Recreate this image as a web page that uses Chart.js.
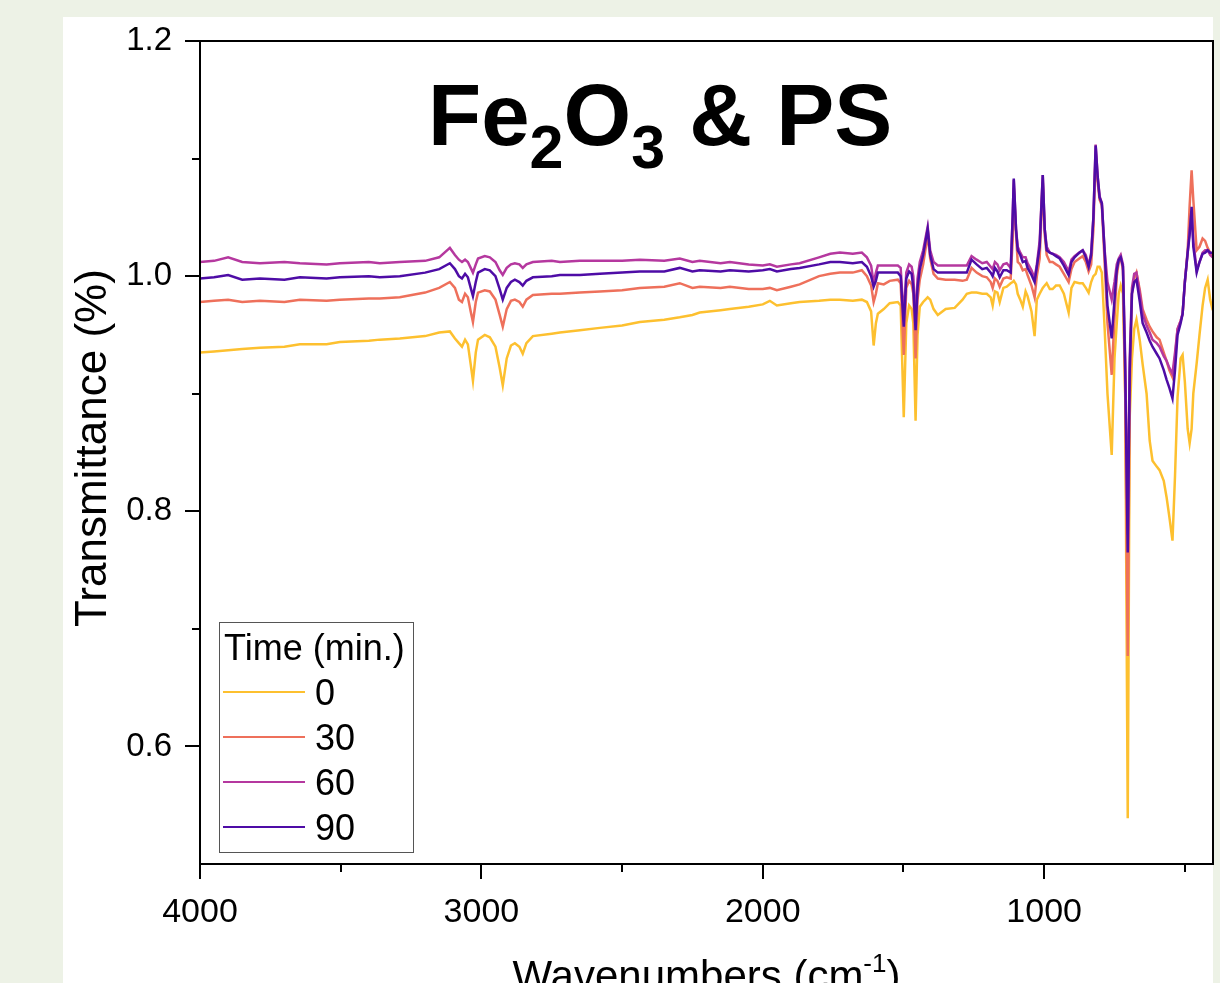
<!DOCTYPE html>
<html>
<head>
<meta charset="utf-8">
<script src="https://cdn.jsdelivr.net/npm/chart.js@4.4.1/dist/chart.umd.min.js"></script>
<style>
  html, body { margin: 0; padding: 0; overflow: hidden; background: #edf2e6; }
  #wrap { position: absolute; left: 0; top: 0; width: 1220px; height: 983px; }
</style>
</head>
<body>
<div id="wrap"><canvas id="c"></canvas></div>
<script>
// ---- data ----
const wavenumbers = [4000,3950,3900,3850,3787,3700,3645,3550,3503,3400,3361,3290,3200,3150,3112,3094,3080,3069,3058,3048,3038,3030,3020,3012,2988,2970,2950,2935,2924,2910,2895,2881,2865,2853,2840,2817,2750,2721,2650,2579,2500,2437,2350,2295,2250,2224,2150,2117,2050,2000,1975,1950,1900,1869,1800,1760,1726,1680,1648,1630,1615,1606,1598,1591,1570,1549,1520,1510,1499,1490,1480,1471,1465,1457,1450,1442,1430,1414,1405,1393,1378,1350,1318,1290,1275,1258,1240,1220,1204,1190,1183,1175,1166,1158,1145,1133,1119,1112,1108,1100,1094,1085,1076,1066,1059,1045,1034,1026,1016,1005,998,991,980,970,958,945,930,913,903,892,875,863,852,842,833,825,817,810,803,795,785,775,760,750,742,735,728,720,712,703,696,688,680,672,660,650,636,625,615,600,590,575,565,555,544,535,526,515,508,500,490,483,476,470,458,448,437,428,419,410,401];

const t0 = [0.935,0.936,0.937,0.938,0.939,0.940,0.942,0.942,0.944,0.945,0.946,0.947,0.949,0.952,0.953,0.947,0.943,0.940,0.946,0.942,0.925,0.911,0.935,0.946,0.950,0.948,0.940,0.922,0.907,0.930,0.941,0.943,0.940,0.934,0.943,0.949,0.951,0.952,0.954,0.956,0.958,0.961,0.963,0.965,0.967,0.969,0.971,0.972,0.974,0.976,0.979,0.975,0.977,0.978,0.979,0.980,0.980,0.979,0.980,0.978,0.970,0.941,0.960,0.968,0.972,0.977,0.978,0.975,0.880,0.960,0.975,0.972,0.960,0.877,0.950,0.974,0.978,0.982,0.980,0.972,0.967,0.972,0.973,0.980,0.985,0.986,0.986,0.985,0.985,0.982,0.975,0.987,0.986,0.978,0.990,0.991,0.994,0.995,0.996,0.993,0.985,0.980,0.974,0.987,0.983,0.970,0.949,0.980,0.985,0.990,0.992,0.994,0.989,0.989,0.992,0.992,0.985,0.969,0.990,0.995,0.994,0.994,0.990,0.986,0.995,1.000,1.002,1.008,1.008,1.003,0.955,0.900,0.848,0.930,0.960,0.985,0.992,0.985,0.900,0.539,0.880,0.930,0.955,0.963,0.945,0.925,0.900,0.860,0.843,0.838,0.835,0.826,0.812,0.795,0.775,0.830,0.897,0.930,0.933,0.910,0.870,0.858,0.870,0.900,0.926,0.950,0.975,0.990,0.997,0.980,0.971];

const t30 = [0.978,0.979,0.980,0.978,0.979,0.978,0.980,0.979,0.980,0.981,0.981,0.982,0.986,0.990,0.995,0.990,0.980,0.978,0.985,0.982,0.970,0.961,0.978,0.986,0.988,0.987,0.980,0.967,0.957,0.972,0.979,0.980,0.978,0.974,0.980,0.984,0.985,0.985,0.986,0.987,0.988,0.990,0.991,0.994,0.990,0.991,0.990,0.991,0.989,0.989,0.990,0.988,0.991,0.993,1.000,1.002,1.003,1.003,1.005,1.000,0.992,0.978,0.985,0.994,0.993,0.996,0.997,0.994,0.933,0.990,0.996,0.993,0.985,0.930,0.980,0.997,1.010,1.035,1.015,1.002,0.998,0.997,0.997,0.996,0.997,1.007,1.003,1.000,0.999,0.995,0.990,0.998,0.996,0.991,0.998,0.999,0.998,1.030,1.075,1.035,1.012,1.010,1.005,1.006,1.001,0.992,0.982,1.000,1.015,1.080,1.035,1.018,1.012,1.012,1.010,1.008,1.002,0.995,1.006,1.012,1.015,1.017,1.012,1.004,1.010,1.040,1.105,1.080,1.065,1.060,1.011,0.960,0.916,0.965,1.000,1.012,1.016,1.005,0.900,0.677,0.900,0.985,0.998,1.003,0.988,0.972,0.963,0.957,0.953,0.948,0.946,0.935,0.928,0.920,0.914,0.930,0.955,0.962,0.968,0.995,1.022,1.060,1.090,1.065,1.022,1.025,1.032,1.030,1.024,1.020,1.018];

const t60 = [1.012,1.013,1.016,1.012,1.011,1.012,1.011,1.010,1.011,1.012,1.011,1.012,1.013,1.016,1.024,1.018,1.014,1.012,1.014,1.012,1.007,1.003,1.010,1.015,1.017,1.016,1.012,1.005,1.001,1.007,1.010,1.011,1.010,1.007,1.010,1.012,1.013,1.012,1.013,1.013,1.013,1.014,1.013,1.015,1.012,1.013,1.011,1.012,1.010,1.009,1.010,1.008,1.010,1.011,1.016,1.019,1.020,1.019,1.020,1.016,1.009,0.994,1.003,1.009,1.009,1.009,1.009,1.007,0.965,1.003,1.010,1.008,1.000,0.962,0.998,1.012,1.022,1.042,1.022,1.012,1.009,1.009,1.009,1.009,1.009,1.017,1.014,1.011,1.012,1.008,1.006,1.012,1.010,1.005,1.010,1.011,1.007,1.050,1.082,1.040,1.025,1.020,1.016,1.016,1.011,1.005,0.998,1.010,1.030,1.086,1.040,1.025,1.020,1.019,1.018,1.016,1.012,1.004,1.014,1.017,1.020,1.022,1.018,1.009,1.020,1.050,1.112,1.085,1.068,1.062,1.022,0.995,0.980,0.995,1.010,1.015,1.018,1.010,0.930,0.780,0.930,0.990,1.002,1.003,0.985,0.968,0.958,0.952,0.946,0.943,0.940,0.932,0.928,0.922,0.917,0.935,0.955,0.962,0.968,0.995,1.020,1.040,1.055,1.030,1.005,1.012,1.020,1.022,1.022,1.018,1.016];

const t90 = [0.998,0.999,1.001,0.997,0.998,0.997,0.999,0.998,0.999,1.000,0.999,1.000,1.003,1.006,1.011,1.006,1.000,0.998,1.002,0.999,0.990,0.983,0.995,1.003,1.006,1.005,1.000,0.989,0.980,0.990,0.995,0.997,0.995,0.992,0.996,0.999,1.000,1.001,1.001,1.002,1.003,1.004,1.004,1.007,1.004,1.005,1.004,1.005,1.004,1.005,1.006,1.004,1.006,1.007,1.010,1.012,1.012,1.011,1.012,1.008,1.000,0.991,0.996,1.003,1.003,1.003,1.003,1.000,0.957,0.998,1.004,1.002,0.990,0.954,0.990,1.006,1.018,1.040,1.018,1.006,1.003,1.003,1.003,1.003,1.003,1.014,1.010,1.006,1.007,1.003,1.000,1.007,1.004,0.999,1.005,1.005,1.003,1.050,1.083,1.040,1.022,1.018,1.012,1.013,1.007,1.001,0.995,1.008,1.025,1.086,1.040,1.022,1.020,1.019,1.017,1.015,1.009,1.001,1.012,1.016,1.020,1.022,1.016,1.008,1.018,1.050,1.111,1.085,1.067,1.062,1.020,0.975,0.947,0.980,1.005,1.014,1.016,1.008,0.920,0.765,0.920,0.985,0.995,0.997,0.978,0.960,0.952,0.945,0.940,0.934,0.930,0.920,0.912,0.905,0.896,0.920,0.950,0.960,0.968,0.995,1.020,1.035,1.059,1.025,1.003,1.012,1.019,1.020,1.022,1.020,1.020];

const seriesLabels = ['0', '30', '60', '90'];
const seriesColors = ['#fdc02f', '#ee705b', '#b5389f', '#4e0ca6'];
const xMajorTicks = [4000, 3000, 2000, 1000];
const xMinorTicks = [3500, 2500, 1500, 500];
const yMajorTicks = [0.6, 0.8, 1.0, 1.2];
const yMinorTicks = [0.7, 0.9, 1.1];
const legendTitle = 'Time (min.)';
const xTitle = 'Wavenumbers (cm';
const yTitle = 'Transmittance (%)';

const FONT = '"Liberation Sans", Arial, Helvetica, sans-serif';
const allSeries = [t0, t30, t60, t90];

const datasets = allSeries.map((vals, i) => ({
  label: seriesLabels[i],
  data: wavenumbers.map((w, j) => ({ x: w, y: vals[j] })),
  borderColor: seriesColors[i],
  backgroundColor: seriesColors[i],
  borderWidth: 2.5,
  pointRadius: 0,
  showLine: true,
  tension: 0,
  order: 4 - i
}));

function zeroPad(s) { s.paddingTop = 0; s.paddingBottom = 0; s.paddingLeft = 0; s.paddingRight = 0; }

const framePlugin = {
  id: 'frame',
  beforeDraw(chart) {
    const ctx = chart.ctx;
    ctx.save();
    ctx.fillStyle = '#edf2e6';
    ctx.fillRect(0, 0, chart.width, chart.height);
    ctx.fillStyle = '#ffffff';
    ctx.fillRect(63, 17, 1150, chart.height - 17);
    ctx.restore();
  },
  afterDraw(chart) {
    const ctx = chart.ctx;
    const a = chart.chartArea;
    const xs = chart.scales.x, ys = chart.scales.y;
    ctx.save();
    ctx.strokeStyle = '#000';
    ctx.lineWidth = 2;
    ctx.strokeRect(a.left, a.top, a.right - a.left, a.bottom - a.top);
    // ticks
    ctx.beginPath();
    xMajorTicks.forEach(v => { const p = Math.round(xs.getPixelForValue(v)); ctx.moveTo(p, a.bottom); ctx.lineTo(p, a.bottom + 15); });
    xMinorTicks.forEach(v => { const p = Math.round(xs.getPixelForValue(v)); ctx.moveTo(p, a.bottom); ctx.lineTo(p, a.bottom + 8); });
    yMajorTicks.forEach(v => { const p = Math.round(ys.getPixelForValue(v)); ctx.moveTo(a.left, p); ctx.lineTo(a.left - 15, p); });
    yMinorTicks.forEach(v => { const p = Math.round(ys.getPixelForValue(v)); ctx.moveTo(a.left, p); ctx.lineTo(a.left - 8, p); });
    ctx.stroke();

    // axis titles
    ctx.fillStyle = '#000';
    ctx.font = '42px ' + FONT;
    ctx.textBaseline = 'alphabetic';
    const cx = (a.left + a.right) / 2;
    const w1 = ctx.measureText(xTitle).width;
    ctx.font = '26px ' + FONT;
    const wSup = ctx.measureText('-1').width;
    ctx.font = '42px ' + FONT;
    const w2 = ctx.measureText(')').width;
    let sx = cx - (w1 + wSup + w2) / 2;
    const by = 990;
    ctx.textAlign = 'left';
    ctx.fillText(xTitle, sx, by);
    ctx.font = '26px ' + FONT;
    ctx.fillText('-1', sx + w1, by - 18);
    ctx.font = '42px ' + FONT;
    ctx.fillText(')', sx + w1 + wSup, by);

    ctx.save();
    ctx.font = '44px ' + FONT;
    ctx.translate(106, 448);
    ctx.rotate(-Math.PI / 2);
    ctx.textAlign = 'center';
    ctx.fillText(yTitle, 0, 0);
    ctx.restore();

    // chart title with subscripts
    const parts = [['Fe', false], ['2', true], ['O', false], ['3', true], [' & PS', false]];
    let tx = 428;
    parts.forEach(([s, sub]) => {
      ctx.font = (sub ? 'bold 61px ' : 'bold 87px ') + FONT;
      ctx.fillText(s, tx, sub ? 168 : 145);
      tx += ctx.measureText(s).width;
    });

    // legend
    const lx = 219, ly = 622, lw = 194, lh = 230;
    ctx.fillStyle = '#fff';
    ctx.fillRect(lx, ly, lw, lh);
    ctx.strokeStyle = '#555';
    ctx.lineWidth = 1;
    ctx.strokeRect(lx + 0.5, ly + 0.5, lw, lh);
    ctx.fillStyle = '#000';
    ctx.font = '36px ' + FONT;
    ctx.textAlign = 'left';
    ctx.fillText(legendTitle, lx + 5, ly + 38);
    chart.data.datasets.forEach((d, i) => {
      const yy = ly + 70 + i * 45;
      ctx.strokeStyle = d.borderColor;
      ctx.lineWidth = 2;
      ctx.beginPath();
      ctx.moveTo(lx + 4, yy);
      ctx.lineTo(lx + 86, yy);
      ctx.stroke();
      ctx.fillStyle = '#000';
      ctx.fillText(d.label, lx + 96, yy + 13);
    });
    ctx.restore();
  }
};

new Chart(document.getElementById('c'), {
  type: 'scatter',
  data: { datasets },
  plugins: [framePlugin],
  options: {
    responsive: true,
    maintainAspectRatio: false,
    animation: false,
    layout: { padding: { left: 0, top: 41, right: 7, bottom: 0 } },
    plugins: { legend: { display: false }, tooltip: { enabled: false }, title: { display: false } },
    scales: {
      x: {
        type: 'linear', reverse: true, min: 400, max: 4000,
        afterFit(s) { s.height = 119; zeroPad(s); },
        afterBuildTicks(s) { s.ticks = xMajorTicks.map(v => ({ value: v })); },
        grid: { display: false, drawTicks: false },
        border: { display: false },
        ticks: { color: '#000', font: { family: FONT, size: 34 }, padding: 28, maxRotation: 0, autoSkip: false, callback: v => String(v) }
      },
      y: {
        type: 'linear', min: 0.5, max: 1.2,
        afterFit(s) { s.width = 200; zeroPad(s); },
        afterBuildTicks(s) { s.ticks = yMajorTicks.map(v => ({ value: v })); },
        grid: { display: false, drawTicks: false },
        border: { display: false },
        ticks: { color: '#000', font: { family: FONT, size: 33 }, padding: 28, autoSkip: false, callback: v => Number(v).toFixed(1) }
      }
    }
  }
});
</script>
</body>
</html>
